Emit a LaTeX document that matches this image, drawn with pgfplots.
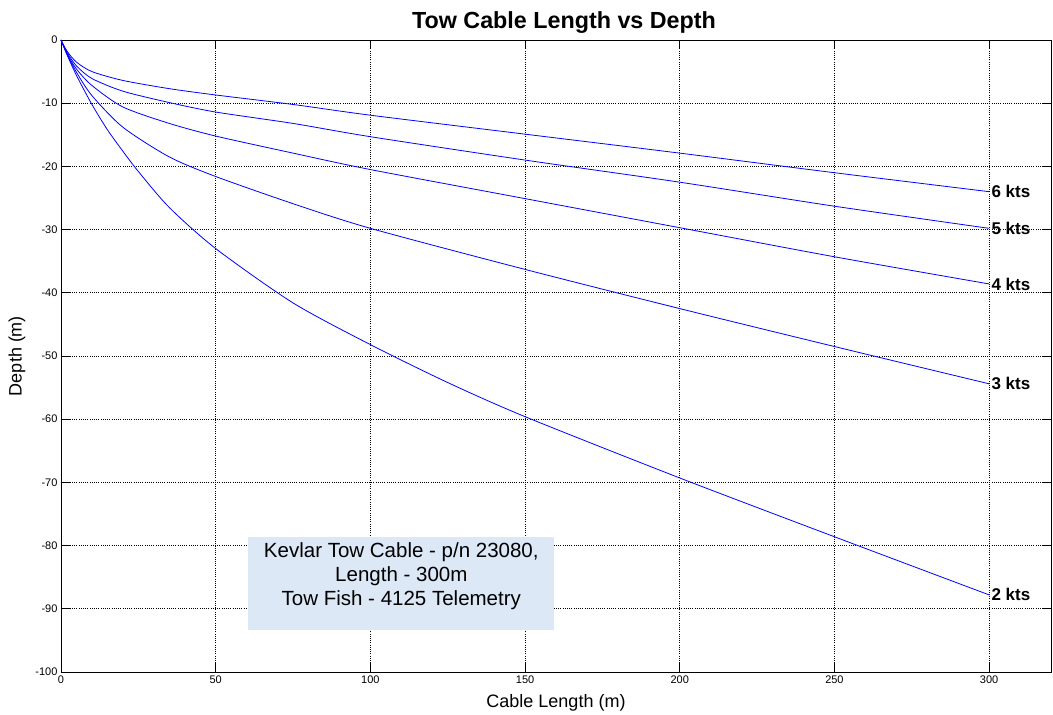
\documentclass[border=0pt]{standalone}
\usepackage{pgfplots}
\pgfplotsset{compat=1.18}
\usepackage{fontspec}
\setmainfont{Liberation Sans}
\definecolor{boxblue}{RGB}{221,232,247}
\definecolor{lineblue}{RGB}{0,0,255}
\tikzset{kts/.style={pos=1, anchor=west, inner sep=2pt, black, font=\bfseries\fontsize{17}{19}\selectfont},
  cable/.style={lineblue, line width=0.8pt, mark=none, smooth, tension=0.45}}
\begin{document}
\begin{tikzpicture}
\begin{axis}[
  scale only axis, width=990pt, height=632pt,
  xmin=0, xmax=320, ymin=-100, ymax=0,
  xtick={0,50,...,300}, ytick={-100,-90,...,0},
  grid=major, major grid style={black, dash pattern=on 1pt off 1.2pt, line width=0.6pt},
  tick align=inside, tick pos=both, major tick length=9pt,
  axis line style={line width=0.9pt},
  tick style={black, line width=0.9pt},
  /pgf/number format/assume math mode=true,
  ticklabel style={font=\fontsize{11}{13}\selectfont},
  xlabel={Cable Length (m)}, ylabel={Depth (m)},
  label style={font=\fontsize{18}{21}\selectfont},
  xlabel style={at={(rel axis cs:0.5,0)}, anchor=center, yshift=-31pt},
  ylabel style={at={(rel axis cs:0,0.5)}, anchor=center, yshift=44pt},
  title={Tow Cable Length vs Depth},
  title style={font=\bfseries\fontsize{23.3}{27}\selectfont, at={(rel axis cs:0.5,1)}, anchor=center, yshift=11pt, xshift=8pt},
  clip=false,
]
\addplot[cable] coordinates {(0,0) (2,-1.8) (5,-3.5) (10,-5.0) (20,-6.4) (35,-7.7) (50,-8.7) (75,-10.2) (100,-11.9) (150,-14.9) (200,-17.9) (250,-21.0) (300,-24.0)} node[kts] {6 kts};
\addplot[cable] coordinates {(0,0) (2,-2.0) (5,-4.1) (10,-6.1) (20,-8.1) (35,-9.9) (50,-11.4) (75,-13.2) (100,-15.3) (150,-19.0) (200,-22.5) (250,-26.3) (300,-29.8)} node[kts] {5 kts};
\addplot[cable] coordinates {(0,0) (2,-2.2) (5,-4.6) (10,-7.2) (20,-10.6) (35,-13.2) (50,-15.2) (75,-17.9) (100,-20.5) (150,-25.1) (200,-29.7) (250,-34.3) (300,-38.6)} node[kts] {4 kts};
\addplot[cable] coordinates {(0,0) (2,-2.3) (5,-5.1) (10,-8.8) (20,-13.8) (35,-18.5) (50,-21.6) (75,-25.9) (100,-29.8) (150,-36.3) (200,-42.5) (250,-48.5) (300,-54.4)} node[kts] {3 kts};
\addplot[cable] coordinates {(0,0) (2,-2.4) (5,-5.6) (10,-10.2) (15,-14.2) (20,-17.6) (25,-20.8) (35,-26.5) (50,-33.0) (75,-41.6) (100,-48.2) (125,-54.2) (150,-59.6) (200,-69.3) (250,-78.6) (300,-87.8)} node[kts] {2 kts};
\fill[boxblue] (axis cs:60.4,-78.6) rectangle (axis cs:159.5,-93.4);
\node[align=center, font=\fontsize{20.5}{24}\selectfont] at (axis cs:110,-84.8) {Kevlar Tow Cable - p/n 23080,\\Length - 300m\\Tow Fish - 4125 Telemetry};
\path ([xshift=-61pt,yshift=-43pt]rel axis cs:0,0) rectangle ([xshift=2pt,yshift=40pt]rel axis cs:1,1);
\end{axis}
\end{tikzpicture}
\end{document}
